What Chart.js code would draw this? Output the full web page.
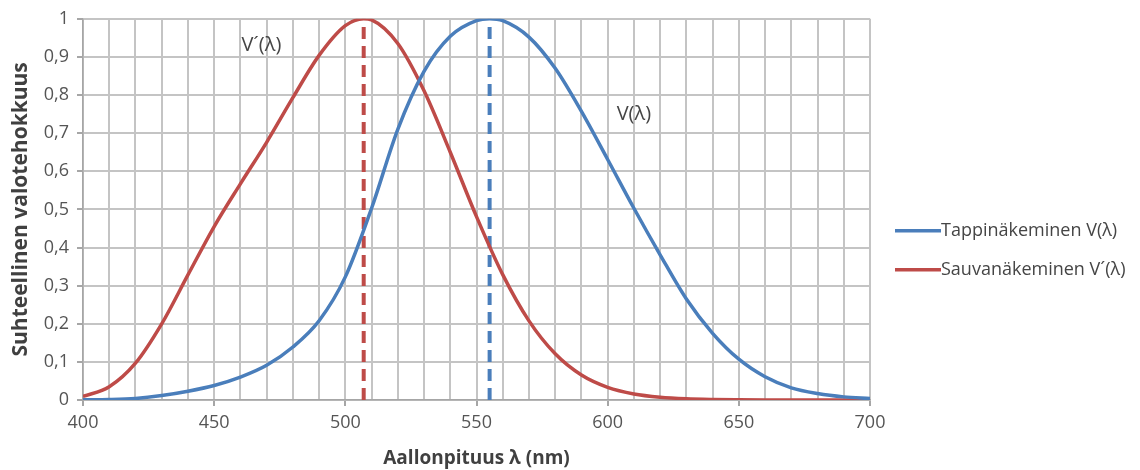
<!DOCTYPE html>
<html><head><meta charset="utf-8">
<script src="https://cdn.jsdelivr.net/npm/chart.js@4.4.0/dist/chart.umd.min.js"></script>
<style>html,body{margin:0;padding:0;background:#fff}#wrap{width:1140px;height:470px;position:relative}</style>
</head><body><div id="wrap"><canvas id="c" width="1140" height="470"></canvas></div>
<script>
// Wavelengths (nm)
const wavelengths = [400,410,420,430,440,450,460,470,480,490,500,510,520,530,540,550,560,570,580,590,600,610,620,630,640,650,660,670,680,690,700];
// Photopic V(λ) – Tappinäkeminen
const photopic = [0.0004,0.0012,0.004,0.0116,0.023,0.038,0.06,0.091,0.139,0.208,0.323,0.503,0.71,0.862,0.954,0.995,0.995,0.952,0.87,0.757,0.631,0.503,0.381,0.265,0.175,0.107,0.061,0.032,0.017,0.0082,0.0041];
// Scotopic V'(λ) – Sauvanäkeminen
const scotopic = [0.0093,0.0348,0.0966,0.1998,0.3281,0.455,0.567,0.676,0.793,0.904,0.982,0.997,0.935,0.811,0.65,0.481,0.3288,0.2076,0.1212,0.0655,0.0332,0.0159,0.0074,0.0033,0.0015,0.0007,0.0003,0.0001,0.0001,0,0];
// Peaks
const photopicPeak = 555;
const scotopicPeak = 507;
const peakValue = 1;
// Labels
const seriesNames = ['Tappinäkeminen V(λ)', 'Sauvanäkeminen V´(λ)'];
const curveLabels = ['V(λ)', 'V´(λ)'];
const curveLabelPos = [[610, 0.75], [468, 0.93]];
const xTitle = 'Aallonpituus λ (nm)';
const yTitle = 'Suhteellinen valotehokkuus';

const BLUE = '#4a7ebb';
const RED = '#be4b48';
const FONT = "'Open Sans'";

function withPeak(vals, peakX) {
  const pts = wavelengths.map((w, i) => ({x: w, y: vals[i]}));
  pts.push({x: peakX, y: peakValue});
  pts.sort((a, b) => a.x - b.x);
  return pts;
}

const legendPlugin = {
  id: 'customLegend',
  afterDraw(chart) {
    const ctx = chart.ctx;
    const ca = chart.chartArea;
    ctx.save();
    // curve labels
    ctx.font = '20px ' + FONT;
    ctx.fillStyle = '#454545';
    ctx.textAlign = 'center';
    ctx.textBaseline = 'middle';
    curveLabelPos.forEach((p, i) => {
      const x = chart.scales.x.getPixelForValue(p[0]);
      const y = chart.scales.y.getPixelForValue(p[1]);
      ctx.fillText(curveLabels[i], x, y);
    });
    // legend
    const colors = [BLUE, RED];
    const x0 = ca.right + 25;
    const ys = [ca.top + 212, ca.top + 251];
    ctx.textAlign = 'left';
    ctx.font = '18px ' + FONT;
    seriesNames.forEach((n, i) => {
      ctx.strokeStyle = colors[i];
      ctx.lineWidth = 3.5;
      ctx.beginPath();
      ctx.moveTo(x0, ys[i]);
      ctx.lineTo(x0 + 46, ys[i]);
      ctx.stroke();
      ctx.fillStyle = '#454545';
      ctx.fillText(n, x0 + 46, ys[i]);
    });
    ctx.restore();
  }
};

new Chart(document.getElementById('c'), {
  type: 'line',
  data: {
    datasets: [
      {label: seriesNames[0], data: withPeak(photopic, photopicPeak), borderColor: BLUE, borderWidth: 3.5, pointRadius: 0, cubicInterpolationMode: 'monotone', order: 1},
      {label: seriesNames[1], data: withPeak(scotopic, scotopicPeak), borderColor: RED, borderWidth: 3.5, pointRadius: 0, cubicInterpolationMode: 'monotone', order: 2},
      {label: 'peakV', data: [{x: photopicPeak, y: 0}, {x: photopicPeak, y: peakValue}], borderColor: BLUE, borderWidth: 4, borderDash: [12, 7], pointRadius: 0, order: 3},
      {label: 'peakV2', data: [{x: scotopicPeak, y: 0}, {x: scotopicPeak, y: peakValue}], borderColor: RED, borderWidth: 4, borderDash: [12, 7], pointRadius: 0, order: 4}
    ]
  },
  options: {
    responsive: false,
    animation: false,
    layout: {padding: {top: 16, right: 270, left: 0, bottom: 0}},
    plugins: {legend: {display: false}, tooltip: {enabled: false}},
    scales: {
      x: {
        type: 'linear', min: 400, max: 700,
        afterFit(s) { s.height = 70; },
        border: {color: '#a6a6a6', width: 1.5},
        grid: {color: '#c4c4c4', lineWidth: 2, tickLength: 6,
          tickColor: c => (c.tick && c.tick.value % 50 === 0) ? '#a6a6a6' : 'rgba(0,0,0,0)'},
        ticks: {stepSize: 10, autoSkip: false, maxRotation: 0, padding: 6, color: '#555555', font: {family: FONT, size: 18},
          callback: v => v % 50 === 0 ? String(v) : ''},
        title: {display: true, text: xTitle, color: '#404040', font: {family: FONT, size: 19, weight: 'bold'}, padding: {top: 0, bottom: 0}}
      },
      y: {
        min: 0, max: 1,
        afterFit(s) { s.width = 83; },
        border: {color: '#a6a6a6', width: 1.5},
        grid: {color: '#c4c4c4', lineWidth: 2, tickLength: 6, tickColor: '#a6a6a6'},
        ticks: {stepSize: 0.1, padding: 8, color: '#555555', font: {family: FONT, size: 18},
          callback: v => String(Math.round(v * 10) / 10).replace('.', ',')},
        title: {display: true, text: yTitle, color: '#404040', font: {family: FONT, size: 21, weight: 'bold'}, padding: {top: 8, bottom: 0}}
      }
    }
  },
  plugins: [legendPlugin]
});
</script>
</body></html>
